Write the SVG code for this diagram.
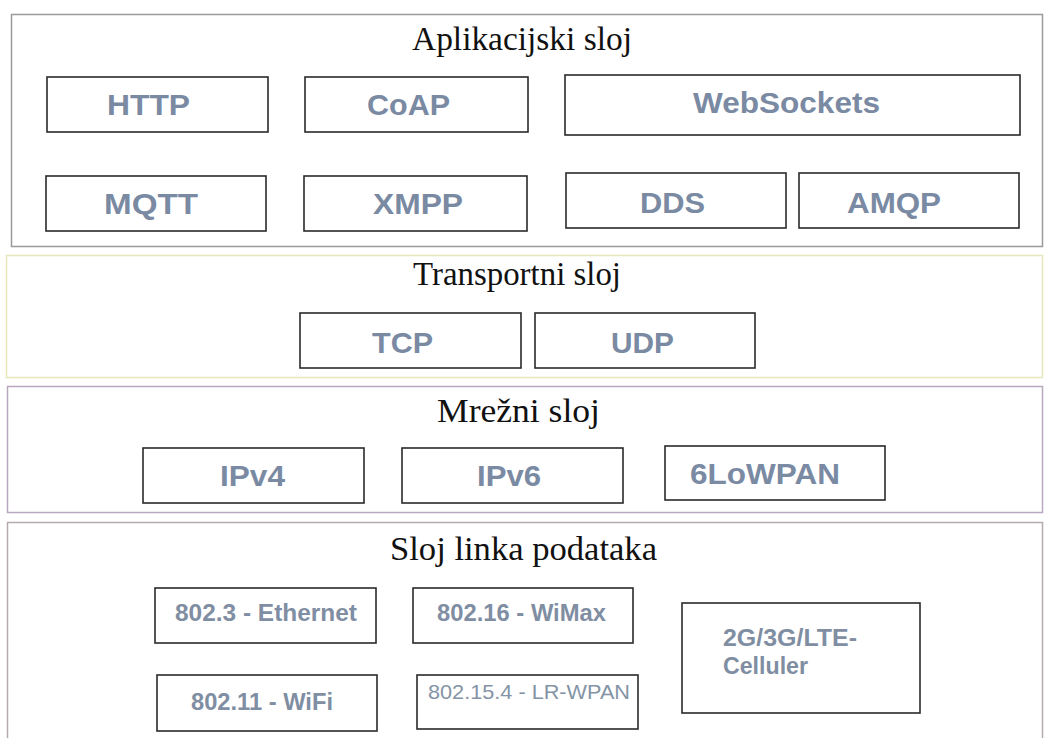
<svg xmlns="http://www.w3.org/2000/svg" width="1044" height="738" viewBox="0 0 1044 738">
<style>
.layer{fill:#ffffff;stroke-width:1.5}
.box{fill:#ffffff;stroke:#2a2a2a;stroke-width:1.6}
.title{font-family:"Liberation Serif","Times New Roman",serif;font-size:33px;fill:#111111}
.lbl{font-family:"Liberation Sans",Arial,sans-serif;font-weight:bold;font-size:30px;fill:#7a8aa3}
.sm{font-family:"Liberation Sans",Arial,sans-serif;font-weight:bold;font-size:23px;fill:#7f8ea2}
.reg{font-family:"Liberation Sans",Arial,sans-serif;font-size:21px;fill:#8494a6}
</style>
<rect width="1044" height="738" fill="#ffffff"/>
<g id="layer-app">
<rect class="layer" x="11.5" y="14.5" width="1031" height="232" stroke="#9a9a9a"/>
<text class="title" x="412" y="50" textLength="220" lengthAdjust="spacingAndGlyphs">Aplikacijski sloj</text>
</g>
<g id="node-http"><rect class="box" x="47" y="77" width="221" height="55"/><text class="lbl" x="107" y="115" textLength="83" lengthAdjust="spacingAndGlyphs">HTTP</text></g>
<g id="node-coap"><rect class="box" x="305" y="77" width="223" height="55"/><text class="lbl" x="367" y="115" textLength="83" lengthAdjust="spacingAndGlyphs">CoAP</text></g>
<g id="node-websockets"><rect class="box" x="565" y="75" width="455" height="60"/><text class="lbl" x="693" y="113" textLength="187" lengthAdjust="spacingAndGlyphs">WebSockets</text></g>
<g id="node-mqtt"><rect class="box" x="46" y="176" width="220" height="55"/><text class="lbl" x="104" y="214" textLength="94" lengthAdjust="spacingAndGlyphs">MQTT</text></g>
<g id="node-xmpp"><rect class="box" x="304" y="176" width="223" height="55"/><text class="lbl" x="373" y="214" textLength="90" lengthAdjust="spacingAndGlyphs">XMPP</text></g>
<g id="node-dds"><rect class="box" x="566" y="173" width="220" height="55"/><text class="lbl" x="640" y="213" textLength="65" lengthAdjust="spacingAndGlyphs">DDS</text></g>
<g id="node-amqp"><rect class="box" x="799" y="173" width="220" height="55"/><text class="lbl" x="847" y="213" textLength="94" lengthAdjust="spacingAndGlyphs">AMQP</text></g>

<g id="layer-transport">
<rect class="layer" x="6.5" y="255.5" width="1036" height="122" stroke="#e6e6bc"/>
<text class="title" x="413" y="285" textLength="208" lengthAdjust="spacingAndGlyphs">Transportni sloj</text>
</g>
<g id="node-tcp"><rect class="box" x="300" y="313" width="221" height="55"/><text class="lbl" x="372" y="353" textLength="61" lengthAdjust="spacingAndGlyphs">TCP</text></g>
<g id="node-udp"><rect class="box" x="535" y="313" width="220" height="55"/><text class="lbl" x="611" y="353" textLength="63" lengthAdjust="spacingAndGlyphs">UDP</text></g>

<g id="layer-network">
<rect class="layer" x="7.5" y="386.5" width="1035" height="126" stroke="#b8a8c0"/>
<text class="title" x="437" y="422" textLength="163" lengthAdjust="spacingAndGlyphs">Mrežni sloj</text>
</g>
<g id="node-ipv4"><rect class="box" x="143" y="448" width="221" height="55"/><text class="lbl" x="220" y="486" textLength="65" lengthAdjust="spacingAndGlyphs">IPv4</text></g>
<g id="node-ipv6"><rect class="box" x="402" y="448" width="221" height="55"/><text class="lbl" x="477" y="486" textLength="64" lengthAdjust="spacingAndGlyphs">IPv6</text></g>
<g id="node-6lowpan"><rect class="box" x="665" y="446" width="220" height="54"/><text class="lbl" x="690" y="484" textLength="150" lengthAdjust="spacingAndGlyphs">6LoWPAN</text></g>

<g id="layer-link">
<rect class="layer" x="7.5" y="522.5" width="1035" height="230" stroke="#b4aaaa"/>
<text class="title" x="390" y="560" textLength="267" lengthAdjust="spacingAndGlyphs">Sloj linka podataka</text>
</g>
<g id="node-ethernet"><rect class="box" x="155" y="588" width="221" height="55"/><text class="sm" x="175" y="621" textLength="182" lengthAdjust="spacingAndGlyphs">802.3 - Ethernet</text></g>
<g id="node-wimax"><rect class="box" x="413" y="588" width="220" height="55"/><text class="sm" x="437" y="621" textLength="169" lengthAdjust="spacingAndGlyphs">802.16 - WiMax</text></g>
<g id="node-wifi"><rect class="box" x="157" y="675" width="220" height="56"/><text class="sm" x="191" y="710" textLength="142" lengthAdjust="spacingAndGlyphs">802.11 - WiFi</text></g>
<g id="node-lrwpan"><rect class="box" x="417" y="675" width="221" height="54"/><text class="reg" x="428" y="699" textLength="202" lengthAdjust="spacingAndGlyphs">802.15.4 - LR-WPAN</text></g>
<g id="node-cellular"><rect class="box" x="682" y="603" width="238" height="110"/><text class="sm" x="723" y="646" textLength="134" lengthAdjust="spacingAndGlyphs">2G/3G/LTE-</text><text class="sm" x="723" y="674" textLength="85" lengthAdjust="spacingAndGlyphs">Celluler</text></g>
<g id="connectors"></g>
</svg>
